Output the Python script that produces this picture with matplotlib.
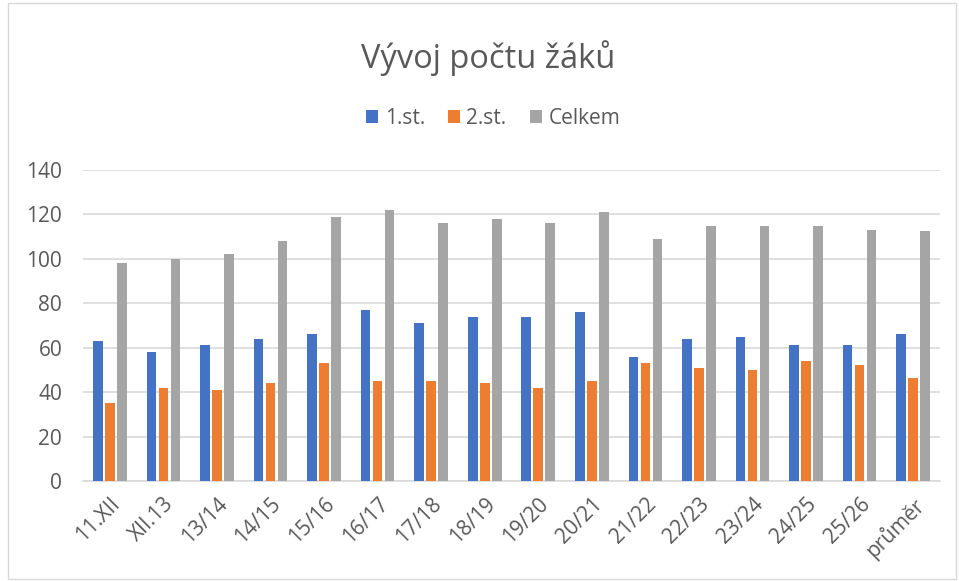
import numpy as np
import matplotlib.pyplot as plt
from matplotlib.patches import Rectangle

# data
labels = ["11.XII", "XII.13", "13/14", "14/15", "15/16", "16/17", "17/18", "18/19",
          "19/20", "20/21", "21/22", "22/23", "23/24", "24/25", "25/26", "průměr"]
prvni_st = [63, 58, 61, 64, 66, 77, 71, 74, 74, 76, 56, 64, 65, 61, 61, 66.1]
druhy_st = [35, 42, 41, 44, 53, 45, 45, 44, 42, 45, 53, 51, 50, 54, 52, 46.4]
celkem = [98, 100, 102, 108, 119, 122, 116, 118, 116, 121, 109, 115, 115, 115, 113, 112.5]

series = [("1.st.", prvni_st, "#4472C4"),
          ("2.st.", druhy_st, "#ED7D31"),
          ("Celkem", celkem, "#A5A5A5")]

plt.rcParams["font.family"] = ["Open Sans", "DejaVu Sans"]
txt = "#595959"

fig = plt.figure(figsize=(9.59, 5.81), dpi=100)
ax = fig.add_axes([83 / 959, 1 - 481 / 581, (940 - 83) / 959, (481 - 170) / 581])

x = np.arange(len(labels))
w = 0.18
step = 0.224
for i, (name, vals, col) in enumerate(series):
    ax.bar(x + (i - 1) * step, vals, width=w, color=col, label=name, zorder=3)

ax.set_xlim(-0.5, len(labels) - 0.5)
ax.set_ylim(0, 140)
ax.set_yticks(range(0, 141, 20))
ax.grid(axis="y", color="#D9D9D9", linewidth=1.2, zorder=0)
for s in ["top", "right", "left"]:
    ax.spines[s].set_visible(False)
ax.spines["bottom"].set_color("#D9D9D9")
ax.spines["bottom"].set_linewidth(1.2)
ax.tick_params(length=0, colors=txt, labelsize=15)
ax.tick_params(axis="y", pad=15)
ax.tick_params(axis="x", pad=9)
ax.set_xticks(x)
ax.set_xticklabels(labels, rotation=45, ha="right", rotation_mode="anchor")

fig.text(0.509, 1 - 58 / 581, "Vývoj počtu žáků", ha="center", va="center",
         fontsize=23.5, color=txt)
fig.legend(loc="center", bbox_to_anchor=(0.514, 1 - 118 / 581), ncol=3, frameon=False,
           fontsize=15, labelcolor=txt, handlelength=0.6, handleheight=0.6,
           handletextpad=0.3, columnspacing=1.1)

fig.patches.append(Rectangle((8 / 959, 2 / 581), 948 / 959, 576 / 581, transform=fig.transFigure,
                             fill=False, edgecolor="#D9D9D9", linewidth=1))

fig.savefig("out.png", dpi=100)
